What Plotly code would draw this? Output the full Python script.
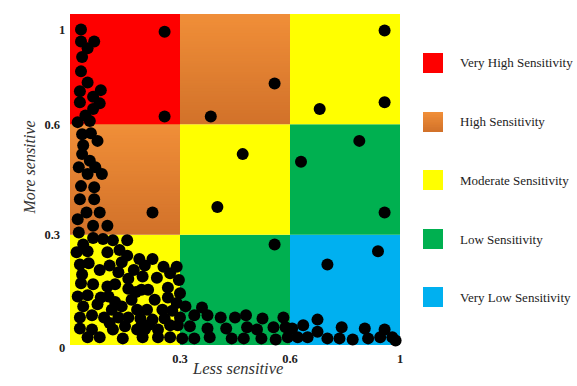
import plotly.graph_objects as go

# ---------------- data ----------------
# axis units: 0..3, ticks labelled 0, 0.3, 0.6, 1 at 0, 1, 2, 3
tick_vals = [1, 2, 3]
tick_text = ["0.3", "0.6", "1"]

legend_labels = ["Very High Sensitivity", "High Sensitivity", "Moderate Sensitivity",
                 "Low Sensitivity", "Very Low Sensitivity"]

# sensitivity class of each grid cell, rows from bottom to top, columns left to right
cell_levels = [
    ["Moderate Sensitivity", "Low Sensitivity", "Very Low Sensitivity"],
    ["High Sensitivity", "Moderate Sensitivity", "Low Sensitivity"],
    ["Very High Sensitivity", "High Sensitivity", "Moderate Sensitivity"],
]

x_upper = [0.10, 0.10, 0.22, 0.16, 0.11, 0.10, 0.16, 0.09, 0.28, 0.21, 0.09, 0.27, 0.21, 0.14,
           0.07, 0.18, 0.11, 0.19, 0.25, 0.12, 0.11, 0.18, 0.08, 0.23, 0.16, 0.29, 0.10, 0.22,
           0.09, 0.22, 0.15, 0.27, 0.07, 0.21, 0.34, 0.08, 0.21, 0.30, 0.39, 0.52]
y_upper = [2.86, 2.75, 2.75, 2.69, 2.61, 2.48, 2.38, 2.30, 2.31, 2.25, 2.20, 2.19, 2.14, 2.08,
           2.02, 2.03, 1.91, 1.92, 1.85, 1.81, 1.73, 1.67, 1.61, 1.61, 1.55, 1.55, 1.44, 1.43,
           1.32, 1.32, 1.20, 1.20, 1.14, 1.08, 1.08, 1.02, 0.97, 0.96, 0.95, 0.95]

x_low = [0.12, 0.06, 0.16, 0.34, 0.45, 0.52, 0.63, 0.75, 0.85, 0.97, 0.09, 0.17, 0.27, 0.36,
         0.47, 0.44, 0.58, 0.68, 0.66, 0.79, 0.91, 0.99, 0.11, 0.10, 0.21, 0.34, 0.41, 0.53,
         0.53, 0.60, 0.65, 0.71, 0.89, 1.00, 0.07, 0.16, 0.28, 0.35, 0.41, 0.56, 0.77, 0.89,
         0.97, 0.12, 0.25, 0.38, 0.47, 0.61, 0.70, 0.84, 0.93, 0.09, 0.20, 0.31, 0.44, 0.53,
         0.64, 0.75, 0.86, 1.00, 0.36, 0.50, 0.64, 0.71, 0.91, 0.98, 1.09, 0.09, 0.20, 0.39,
         0.61, 0.68, 0.80, 0.16, 0.27, 0.48, 0.66, 0.80, 0.91, 1.02, 1.13]
y_low = [0.91, 0.84, 0.85, 0.84, 0.86, 0.81, 0.78, 0.78, 0.71, 0.71, 0.73, 0.74, 0.68, 0.72,
         0.75, 0.66, 0.68, 0.72, 0.62, 0.61, 0.65, 0.59, 0.64, 0.56, 0.55, 0.53, 0.55, 0.60,
         0.51, 0.48, 0.50, 0.50, 0.52, 0.47, 0.44, 0.45, 0.43, 0.44, 0.39, 0.41, 0.41, 0.43,
         0.38, 0.35, 0.37, 0.32, 0.35, 0.32, 0.32, 0.32, 0.31, 0.25, 0.27, 0.25, 0.25, 0.25,
         0.24, 0.23, 0.24, 0.25, 0.20, 0.17, 0.16, 0.18, 0.18, 0.18, 0.17, 0.15, 0.14, 0.14,
         0.14, 0.14, 0.14, 0.07, 0.07, 0.06, 0.07, 0.07, 0.07, 0.06, 0.06]

x_right = [1.05, 1.20, 1.13, 1.25, 1.37, 1.50, 1.60, 1.75, 1.94, 1.25, 1.42, 1.61, 1.70, 1.85,
           1.96, 1.27, 1.47, 1.58, 1.74, 1.87, 1.98,
           2.02, 2.12, 2.25, 2.07, 2.16, 2.25, 2.34, 2.47, 2.45, 2.57, 2.68, 2.71, 2.82, 2.86,
           2.93, 2.96]
y_right = [0.35, 0.34, 0.27, 0.27, 0.25, 0.25, 0.27, 0.24, 0.25, 0.15, 0.15, 0.16, 0.14, 0.16,
           0.16, 0.07, 0.06, 0.06, 0.06, 0.05, 0.07,
           0.15, 0.18, 0.23, 0.07, 0.07, 0.12, 0.06, 0.16, 0.06, 0.05, 0.15, 0.06, 0.07, 0.14,
           0.07, 0.04]

x_sparse = [0.86, 0.86, 1.86, 1.28, 2.86, 2.27, 2.86, 1.57, 1.34, 2.10, 2.63, 2.86, 0.75, 1.86,
            2.34, 2.80]
y_sparse = [2.84, 2.07, 2.37, 2.07, 2.85, 2.14, 2.20, 1.73, 1.25, 1.66, 1.85, 1.20, 1.20, 0.91,
            0.73, 0.85]

x_all = x_upper + x_low + x_right + x_sparse
y_all = y_upper + y_low + y_right + y_sparse

# ---------------- styles ----------------
W, H = 577, 386
ML, MR, MT, MB = 70, 177, 14, 41
PW, PH = W - ML - MR, H - MT - MB

solid = {
    "Very High Sensitivity": "#FE0000",
    "Moderate Sensitivity": "#FFFF00",
    "Low Sensitivity": "#00B050",
    "Very Low Sensitivity": "#00B0F0",
}
orange_top = (240, 142, 56)
orange_bot = (210, 114, 42)
SERIF = "Liberation Serif, Times New Roman, serif"


def mix(c1, c2, t):
    return "rgb(%d,%d,%d)" % tuple(round(a + (b - a) * t) for a, b in zip(c1, c2))


def px_x(px):
    return (px - ML) / PW


def px_y(py):
    return (H - MB - py) / PH


shapes = []


def add_rect(x0, x1, y0, y1, level, xref, yref, n=40):
    if level == "High Sensitivity":
        # stacked overlapping bands (bottom dark -> top light) to fake a vertical gradient
        for i in range(n):
            t = i / (n - 1)
            ya = y0 + (y1 - y0) * i / n
            shapes.append(dict(type="rect", xref=xref, yref=yref, x0=x0, x1=x1, y0=ya, y1=y1,
                               fillcolor=mix(orange_bot, orange_top, t), line=dict(width=0),
                               layer="below"))
    else:
        shapes.append(dict(type="rect", xref=xref, yref=yref, x0=x0, x1=x1, y0=y0, y1=y1,
                           fillcolor=solid[level], line=dict(width=0), layer="below"))


for r, row in enumerate(cell_levels):
    for c, lev in enumerate(row):
        add_rect(c, c + 1, r, r + 1, lev, "x", "y")

annotations = []
legend_cy = [63, 122, 180, 239, 297]
for lab, cy in zip(legend_labels, legend_cy):
    add_rect(px_x(423), px_x(443), px_y(cy + 10), px_y(cy - 10), lab, "paper", "paper", n=12)
    annotations.append(dict(x=px_x(458), y=px_y(cy), xref="paper", yref="paper", text=lab,
                            showarrow=False, xanchor="left", yanchor="middle",
                            font=dict(family=SERIF, size=13, color="#222222")))

TICKFONT = dict(family=SERIF, size=12.5, color="#222222")
# corner / top tick labels
annotations.append(dict(x=px_x(57), y=px_y(357), xref="paper", yref="paper", text="<b>0</b>",
                        showarrow=False, font=TICKFONT))
annotations.append(dict(x=px_x(57), y=px_y(21), xref="paper", yref="paper", text="<b>1</b>",
                        showarrow=False, font=TICKFONT))
# axis titles
annotations.append(dict(x=px_x(18), y=px_y(168), xref="paper", yref="paper",
                        text="<i>More sensitive</i>", textangle=-90, showarrow=False,
                        font=dict(family=SERIF, size=16, color="#333333")))
annotations.append(dict(x=px_x(238), y=px_y(380), xref="paper", yref="paper",
                        text="<i>Less sensitive</i>", showarrow=False,
                        font=dict(family=SERIF, size=16.5, color="#333333")))

fig = go.Figure()
fig.add_trace(go.Scatter(x=x_all, y=y_all, mode="markers", cliponaxis=False,
                         marker=dict(size=12, color="black", line=dict(width=0)),
                         showlegend=False, hoverinfo="skip"))

fig.update_layout(
    width=W, height=H,
    margin=dict(l=ML, r=MR, t=MT, b=MB),
    paper_bgcolor="white", plot_bgcolor="white",
    shapes=shapes, annotations=annotations, showlegend=False,
    xaxis=dict(range=[0, 3], tickvals=tick_vals, ticktext=["<b>%s</b>" % t for t in tick_text],
               showgrid=False, zeroline=False, showline=False, ticks="",
               ticklabelstandoff=4, tickfont=TICKFONT, fixedrange=True),
    yaxis=dict(range=[0, 3], tickvals=tick_vals[:2], ticktext=["<b>%s</b>" % t for t in tick_text[:2]],
               showgrid=False, zeroline=False, showline=False, ticks="",
               ticklabelstandoff=9, tickfont=TICKFONT, fixedrange=True),
)

fig.write_html("out.html", config={"displayModeBar": False},
               post_script="document.body.style.margin='0';document.body.style.overflow='hidden';")
